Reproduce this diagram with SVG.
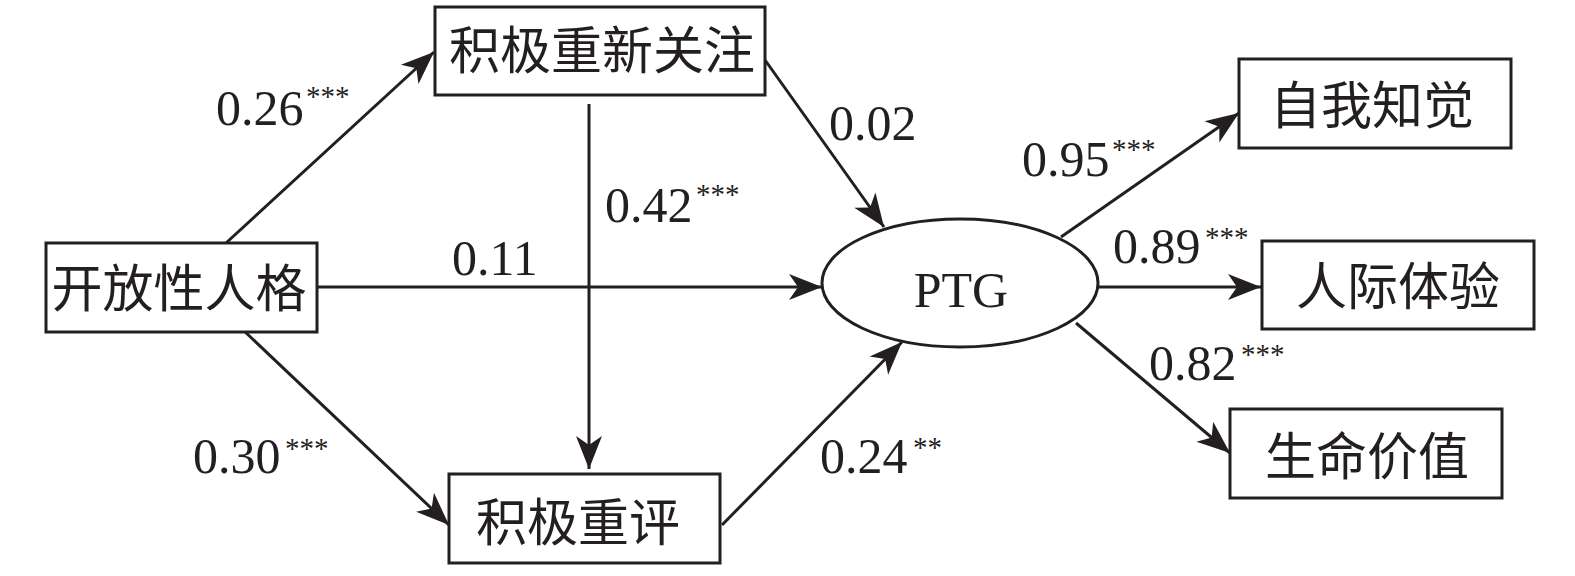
<svg xmlns="http://www.w3.org/2000/svg" width="1575" height="576" viewBox="0 0 1575 576">
<defs>
<style>
.box{fill:#fff;stroke:#231f20;stroke-width:3}
.cn{font-family:"Liberation Serif","Noto Sans CJK SC",serif;font-size:51px;fill:#231f20;text-anchor:middle}
.num{font-family:"Liberation Serif",serif;font-size:50px;fill:#231f20}
.sup{font-family:"Liberation Serif",serif;font-size:29px;fill:#231f20}
.ln{stroke:#231f20;stroke-width:3;fill:none;marker-end:url(#ah)}
</style>
<marker id="ah" viewBox="-34 -14 35 28" refX="0" refY="0" markerWidth="35" markerHeight="28" markerUnits="userSpaceOnUse" orient="auto">
<path d="M0,0 L-33,-13 L-24,0 L-33,13 Z" fill="#231f20"/>
</marker>
</defs>
<rect width="1575" height="576" fill="#fff"/>
<g id="connectors">
<line class="ln" x1="226" y1="243" x2="434" y2="52"/>
<line class="ln" x1="242" y1="329" x2="449" y2="525"/>
<line class="ln" x1="317" y1="287" x2="822" y2="287"/>
<line class="ln" x1="765" y1="60" x2="884" y2="227"/>
<line class="ln" x1="589" y1="104" x2="589" y2="469"/>
<line class="ln" x1="722" y1="525" x2="902" y2="342"/>
<line class="ln" x1="1061" y1="237" x2="1239" y2="113"/>
<line class="ln" x1="1099" y1="287" x2="1261" y2="287"/>
<line class="ln" x1="1076" y1="323" x2="1230" y2="453"/>
</g>
<g id="labels">
<text class="num" x="216" y="125">0.26</text><text class="sup" x="306" y="106">***</text>
<text class="num" x="605" y="222">0.42</text><text class="sup" x="696" y="204">***</text>
<text class="num" x="452" y="275">0.11</text>
<text class="num" x="193" y="473">0.30</text><text class="sup" x="285" y="458">***</text>
<text class="num" x="829" y="140">0.02</text>
<text class="num" x="1022" y="176">0.95</text><text class="sup" x="1112" y="159">***</text>
<text class="num" x="1113" y="263">0.89</text><text class="sup" x="1205" y="247">***</text>
<text class="num" x="1149" y="380">0.82</text><text class="sup" x="1241" y="364">***</text>
<text class="num" x="820" y="473">0.24</text><text class="sup" x="913" y="457">**</text>
</g>
<g id="node-focus">
<rect class="box" x="435" y="7" width="330" height="88"/>
<text class="cn" x="602" y="69">积极重新关注</text>
</g>
<g id="node-openness">
<rect class="box" x="46" y="243" width="271" height="89"/>
<text class="cn" x="179" y="307">开放性人格</text>
</g>
<g id="node-reappraisal">
<rect class="box" x="449" y="474" width="271" height="89"/>
<text class="cn" x="578" y="541">积极重评</text>
</g>
<g id="node-ptg">
<ellipse cx="960" cy="283" rx="138" ry="64" fill="#fff" stroke="#231f20" stroke-width="3"/>
<text class="num" x="961" y="307" text-anchor="middle">PTG</text>
</g>
<g id="node-self">
<rect class="box" x="1239" y="59" width="272" height="89"/>
<text class="cn" x="1372" y="124">自我知觉</text>
</g>
<g id="node-inter">
<rect class="box" x="1262" y="241" width="272" height="88"/>
<text class="cn" x="1398" y="305">人际体验</text>
</g>
<g id="node-life">
<rect class="box" x="1230" y="409" width="272" height="89"/>
<text class="cn" x="1367" y="475">生命价值</text>
</g>
</svg>
